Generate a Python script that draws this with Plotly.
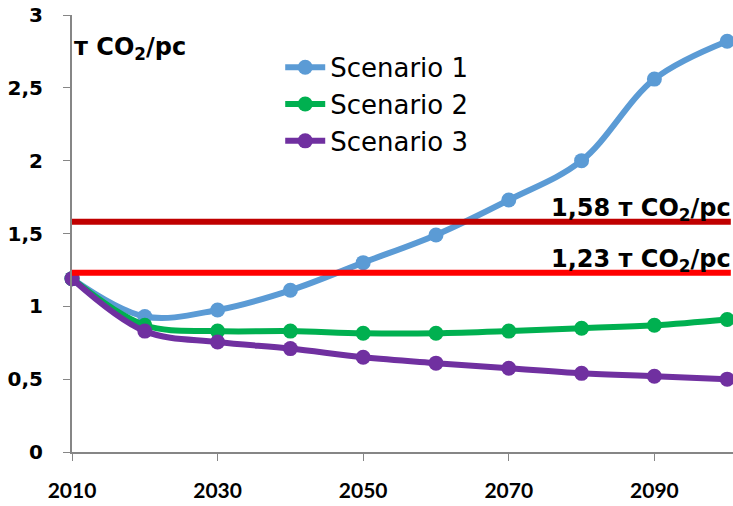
import plotly.graph_objects as go

years = [2010, 2020, 2030, 2040, 2050, 2060, 2070, 2080, 2090, 2100]
scenario1 = [1.19, 0.93, 0.975, 1.11, 1.30, 1.49, 1.73, 2.00, 2.56, 2.82]
scenario2 = [1.19, 0.87, 0.83, 0.83, 0.815, 0.815, 0.83, 0.85, 0.87, 0.91]
scenario3 = [1.19, 0.83, 0.755, 0.71, 0.65, 0.61, 0.575, 0.54, 0.52, 0.50]
names = ["Scenario 1", "Scenario 2", "Scenario 3"]
colors = ["#5B9BD5", "#00B050", "#7030A0"]

ref_values = [1.58, 1.23]
ref_labels = ["1,58 т CO<sub>2</sub>/pc", "1,23 т CO<sub>2</sub>/pc"]
ref_colors = ["#C00000", "#FF0000"]
ref_x = [2010, 2100.5]

y_ticks = [0, 0.5, 1, 1.5, 2, 2.5, 3]
y_tick_text = ["0", "0,5", "1", "1,5", "2", "2,5", "3"]
x_ticks = [2010, 2030, 2050, 2070, 2090]

fig = go.Figure()
for name, vals, c in zip(names, [scenario1, scenario2, scenario3], colors):
    fig.add_trace(go.Scatter(
        x=years, y=vals, name=name, mode="lines+markers",
        line=dict(color=c, width=6, shape="spline", smoothing=1.0),
        marker=dict(color=c, size=15),
        cliponaxis=False,
    ))

for v, c, lab in zip(ref_values, ref_colors, ref_labels):
    fig.add_trace(go.Scatter(
        x=ref_x, y=[v, v], mode="lines", showlegend=False,
        line=dict(color=c, width=6), hoverinfo="skip",
    ))
    fig.add_annotation(
        x=1.0, xref="paper", y=v, yref="y", text=lab, showarrow=False,
        xanchor="right", yanchor="bottom", yshift=-5,
        font=dict(family="DejaVu Sans", size=24, color="black", weight="bold"),
    )

fig.add_annotation(
    x=0.0, xref="paper", y=2.77, yref="y", text="т CO<sub>2</sub>/pc",
    showarrow=False, xanchor="left", yanchor="middle", xshift=0,
    font=dict(family="DejaVu Sans", size=24, color="black", weight="bold"),
)

fig.update_layout(
    width=733, height=506,
    margin=dict(l=72, r=0, t=15, b=54),
    plot_bgcolor="white", paper_bgcolor="white",
    showlegend=True,
    legend=dict(
        x=0.315, y=0.934, xanchor="left", yanchor="top",
        font=dict(family="DejaVu Sans", size=26, color="black"),
        bgcolor="rgba(0,0,0,0)", itemwidth=40, tracegroupgap=0,
    ),
    xaxis=dict(
        range=[2010, 2100.8], tickvals=x_ticks, ticktext=[str(t) for t in x_ticks],
        showgrid=False, zeroline=False, showline=True, linecolor="#868686", linewidth=2,
        ticks="outside", ticklen=7, tickcolor="#868686", tickwidth=1,
        tickfont=dict(family="Lato", size=21, color="black", weight="bold"),
        ticklabelstandoff=12,
    ),
    yaxis=dict(
        range=[0, 3], tickvals=y_ticks, ticktext=y_tick_text,
        showgrid=False, zeroline=False, showline=True, linecolor="#868686", linewidth=2,
        ticks="outside", ticklen=7, tickcolor="#868686", tickwidth=1,
        tickfont=dict(family="DejaVu Sans", size=20, color="black", weight="bold"),
        ticklabelstandoff=16,
    ),
)

fig.write_html(
    "out.html",
    config={"displayModeBar": False},
    post_script="document.body.style.margin='0';document.body.style.padding='0';",
)
